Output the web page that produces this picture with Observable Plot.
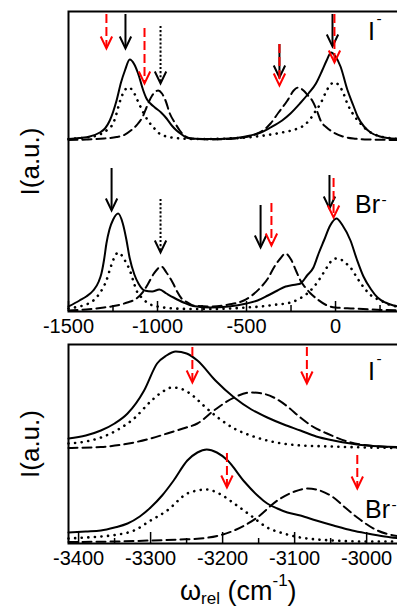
<!DOCTYPE html>
<html>
<head>
<meta charset="utf-8">
<script src="https://cdn.jsdelivr.net/npm/d3@7"></script>
<script src="https://cdn.jsdelivr.net/npm/@observablehq/plot@0.6"></script>
<style>
  body { margin: 0; background: #fff; }
  #chart { position: relative; width: 397px; height: 609px; overflow: hidden; background: #fff; }
  #chart svg { display: block; max-width: none !important; }
</style>
</head>
<body>
<div id="chart"></div>
<script>
// ---------------- DATA ----------------
// Upper panel (ω from -1500 to ~365 cm^-1); heights in a.u. above each trace's own baseline
const topMajorTicks = [-1500, -1000, -500, 0];
const topMinorTicks = [-1250, -750, -250, 250];
const topIOffset = 171;   // I- traces are stacked above the Br- traces
const topBrOffset = 0;

const topI_solid = [[-1500,1.5],[-1440,2.5],[-1380,4],[-1324,8],[-1295,12],[-1268,20],[-1230,40],[-1205,58],[-1183,70],[-1156,81],[-1130,76],[-1109,67],[-1080,50],[-1062,42],[-1040,37],[-1015,33],[-980,28],[-949,22],[-920,15],[-893,10],[-860,5.5],[-837,3],[-790,1.8],[-700,1.5],[-600,2],[-520,3.5],[-478,5],[-420,8],[-365,13],[-300,20],[-253,27],[-200,37],[-152,47],[-110,57],[-75,70],[-50,80],[-25,88],[0,84],[28,74],[66,51],[100,35],[124,24],[160,14],[197,8],[250,4],[292,2.5],[365,1.5]];
const topI_dotted = [[-1500,1.5],[-1400,3],[-1324,6],[-1280,11],[-1247,18],[-1230,27],[-1213,38],[-1185,50],[-1163,53],[-1140,50],[-1107,38],[-1080,28],[-1050,19],[-1022,13],[-990,7],[-950,4],[-900,2.5],[-800,1.5],[-700,1.5],[-600,2],[-500,3],[-400,5],[-300,8],[-213,12],[-170,16],[-140,22],[-110,30],[-84,37],[-55,48],[-28,56],[-5,58],[20,55],[45,47],[66,37],[100,26],[140,17],[180,10],[220,6],[280,3],[365,1.5]];
const topI_dashed = [[-1500,0.5],[-1400,1],[-1300,2],[-1230,3.5],[-1193,5],[-1150,10],[-1109,17],[-1080,25],[-1062,33],[-1030,45],[-996,50],[-975,47],[-955,40],[-931,27],[-900,17],[-875,10],[-850,5],[-819,2],[-780,1.5],[-700,1],[-600,1.5],[-520,3],[-438,7],[-400,11],[-365,17],[-320,28],[-270,40],[-235,50],[-208,53],[-180,50],[-155,45],[-131,40],[-105,30],[-84,20],[-50,13],[-11,8],[40,4],[100,2],[200,1],[365,0.5]];

const topBr_solid = [[-1500,5],[-1438,11],[-1400,15],[-1361,21],[-1330,30],[-1315,38],[-1300,52],[-1287,68],[-1270,82],[-1249,92],[-1221,98],[-1195,88],[-1175,72],[-1157,54],[-1130,37],[-1107,28],[-1073,21],[-1030,20],[-989,22],[-950,18],[-910,14],[-854,9],[-800,5.5],[-700,4],[-600,5],[-500,8],[-438,11],[-380,16],[-326,21],[-280,25],[-253,26],[-220,27],[-197,28],[-160,36],[-124,44],[-95,58],[-65,71],[-30,86],[5,93],[40,86],[84,71],[120,52],[157,35],[200,22],[236,14],[280,9],[326,6],[365,4.5]];
const topBr_dotted = [[-1500,3],[-1440,5],[-1400,7],[-1360,11],[-1330,17],[-1287,31],[-1260,46],[-1240,55],[-1221,59],[-1200,56],[-1180,50],[-1155,41],[-1135,30],[-1118,21],[-1090,14],[-1073,11],[-1040,7],[-1000,5],[-900,3],[-800,2.5],[-700,2.5],[-600,3],[-500,4],[-420,5],[-350,6.5],[-253,9],[-200,13],[-159,18],[-120,25],[-84,34],[-45,45],[-15,52],[6,53],[30,52],[60,48],[84,44],[120,34],[159,24],[200,16],[253,11],[300,7],[365,4.5]];
const topBr_dashed = [[-1500,1],[-1400,2],[-1300,4],[-1230,6],[-1170,9],[-1118,13],[-1080,20],[-1052,28],[-1020,38],[-978,45],[-950,39],[-912,28],[-890,20],[-865,13],[-830,9],[-800,6],[-700,5],[-600,7],[-515,11],[-470,16],[-421,24],[-380,33],[-346,44],[-310,53],[-281,58],[-250,52],[-220,40],[-197,31],[-170,24],[-140,18],[-100,12],[-47,6],[0,4],[100,3],[200,2],[365,1]];

// arrows: [x, top, tip]
const topBlackArrows = [[-1180,297,263],[-315,267,234],[-17,297,265],[-1258,143,101],[-421,106,64],[-34,136,103]];
const topDottedArrows = [[-983,284,228],[-983,111,59]];
const topRedArrows = [[-1287,297,263],[-1073,283,228],[-315,267,226],[-6,297,249],[-360,108,66],[-11,133,94]];

// Lower panel (ω from ~-3414 to ~-2953 cm^-1)
const botMajorTicks = [-3400, -3300, -3200, -3100, -3000];
const botMinorTicks = [-3350, -3250, -3150, -3050];
const botIOffset = 95;
const botBrOffset = 0;

const botI_solid = [[-3414,10],[-3390,13],[-3369,18],[-3350,25],[-3332,35],[-3309,58],[-3291,85],[-3278,93],[-3265,97],[-3250,95],[-3235,88],[-3210,68],[-3184,51],[-3160,39],[-3138,31],[-3115,24],[-3092,18],[-3070,12],[-3046,8],[-3000,3],[-2953,1.5]];
const botI_dotted = [[-3414,5],[-3390,7],[-3369,11],[-3345,19],[-3323,30],[-3300,47],[-3285,56],[-3270,61],[-3255,59],[-3240,52],[-3225,42],[-3203,29],[-3184,20],[-3161,13],[-3138,8],[-3100,3.5],[-3050,2],[-3000,1],[-2953,0.5]];
const botI_dashed = [[-3414,0.5],[-3369,1.5],[-3323,6],[-3300,10],[-3277,15],[-3255,20],[-3235,25],[-3212,38],[-3184,51],[-3161,56],[-3145,55],[-3129,51],[-3110,42],[-3092,31],[-3075,22],[-3055,15],[-3022,6],[-2990,2.5],[-2953,1]];

const botBr_solid = [[-3414,11],[-3390,12],[-3369,13],[-3350,16],[-3332,20],[-3315,27],[-3300,36],[-3284,48],[-3268,63],[-3249,83],[-3235,91],[-3222,94],[-3208,91],[-3193,83],[-3170,62],[-3150,47],[-3138,40],[-3124,35],[-3110,31],[-3092,28],[-3070,23],[-3046,18],[-3020,13],[-2999,10],[-2975,7],[-2953,5]];
const botBr_dotted = [[-3414,5],[-3390,6],[-3369,7],[-3345,9],[-3323,13],[-3300,23],[-3277,33],[-3249,50],[-3235,53],[-3222,54],[-3205,50],[-3184,40],[-3161,28],[-3138,16],[-3115,10],[-3092,6],[-3046,3],[-3000,2],[-2953,2]];
const botBr_dashed = [[-3414,1.5],[-3350,2],[-3300,3],[-3260,4],[-3231,5],[-3205,8],[-3184,13],[-3152,26],[-3124,43],[-3100,52],[-3082,55],[-3065,53],[-3046,46],[-3030,36],[-3013,26],[-2985,13],[-2953,7]];

const botRedArrows = [[-3242,196,161],[-3083,196,160],[-3194,90,56],[-3013,88,55]];

const yLabel = "I(a.u.)";
const ionI = ["I", "-"];
const ionBr = ["Br", "-"];

// ---------------- DRAWING ----------------
const FONT = '"Liberation Sans", Arial, Helvetica, sans-serif';
const RED = "#ff0000";

const rows = (pts, offset, id) => pts.map(([x, h]) => ({x, y: h + offset, id}));
const arrows = (arr) => arr.map(([x, y1, y2]) => ({x, y1, y2}));

// open V arrowhead with its tip at the anchor point
const vHead = {
  draw(ctx, size) {
    const r = Math.sqrt(size / Math.PI);
    ctx.moveTo(-0.95 * r, -2 * r);
    ctx.lineTo(0, 0);
    ctx.lineTo(0.95 * r, -2 * r);
  }
};

function arrowMarks(arr, color, dash, cap) {
  const d = arrows(arr);
  return [
    Plot.ruleX(d, {x: "x", y1: "y1", y2: "y2", stroke: color, strokeWidth: 2, strokeDasharray: dash, strokeLinecap: cap}),
    Plot.dot(d, {x: "x", y: "y2", symbol: vHead, r: 6, stroke: color, fill: "none", strokeWidth: 2, strokeLinejoin: "miter"})
  ];
}

function curveMarks(solid, dotted, dashed) {
  return [
    Plot.line(dashed, {x: "x", y: "y", z: "id", stroke: "black", strokeWidth: 2, strokeDasharray: "9,5", curve: "monotone-x"}),
    Plot.line(dotted, {x: "x", y: "y", z: "id", stroke: "black", strokeWidth: 2.6, strokeDasharray: "0.1,6.5", strokeLinecap: "round", curve: "monotone-x"}),
    Plot.line(solid, {x: "x", y: "y", z: "id", stroke: "black", strokeWidth: 2, curve: "monotone-x"})
  ];
}

function tickMarks(major, minor, frameH, majorLen, minorLen) {
  return [
    Plot.ruleX(major, {x: d => d, insetTop: frameH - majorLen, stroke: "black", strokeWidth: 1.5}),
    Plot.ruleX(minor, {x: d => d, insetTop: frameH - minorLen, stroke: "black", strokeWidth: 1.5})
  ];
}

function addIon(svg, x, y, parts, size, supDy) {
  const t = d3.select(svg).append("text")
    .attr("x", x).attr("y", y).attr("text-anchor", "start")
    .attr("font-family", FONT).attr("font-size", size).attr("fill", "black");
  t.append("tspan").text(parts[0]);
  t.append("tspan").attr("font-size", size * 0.62).attr("dx", 1.5).attr("dy", supDy).text(parts[1]);
}

// ---- upper panel ----
const topSolid = [...rows(topI_solid, topIOffset, "I"), ...rows(topBr_solid, topBrOffset, "Br")];
const topDotted = [...rows(topI_dotted, topIOffset, "I"), ...rows(topBr_dotted, topBrOffset, "Br")];
const topDashed = [...rows(topI_dashed, topIOffset, "I"), ...rows(topBr_dashed, topBrOffset, "Br")];

const topPlot = Plot.plot({
  width: 400, height: 340,
  marginLeft: 68, marginRight: 0, marginTop: 11, marginBottom: 29,
  style: {fontFamily: FONT, background: "white", color: "black"},
  x: {domain: [-1500, 365]},
  y: {domain: [0, 300], axis: null},
  marks: [
    ...curveMarks(topSolid, topDotted, topDashed),
    ...tickMarks(topMajorTicks, topMinorTicks, 300, 10, 6),
    Plot.axisX({ticks: topMajorTicks, tickSize: 0, tickPadding: 7, fontSize: 20, label: null, tickFormat: d => String(d)}),
    ...arrowMarks(topBlackArrows, "black", null, null),
    ...arrowMarks(topDottedArrows, "black", "0.1,4", "square"),
    ...arrowMarks(topRedArrows, RED, "9,4", null),
    Plot.frame({stroke: "black", strokeWidth: 2}),
    Plot.text([yLabel], {frameAnchor: "left", dx: -38, rotate: -90, fontSize: 26, textAnchor: "middle", lineAnchor: "middle", fontFamily: FONT})
  ]
});

// ---- lower panel ----
const botSolid = [...rows(botI_solid, botIOffset, "I"), ...rows(botBr_solid, botBrOffset, "Br")];
const botDotted = [...rows(botI_dotted, botIOffset, "I"), ...rows(botBr_dotted, botBrOffset, "Br")];
const botDashed = [...rows(botI_dashed, botIOffset, "I"), ...rows(botBr_dashed, botBrOffset, "Br")];

const botPlot = Plot.plot({
  width: 400, height: 269,
  marginLeft: 68, marginRight: 0, marginTop: 4, marginBottom: 66,
  style: {fontFamily: FONT, background: "white", color: "black"},
  x: {domain: [-3414, -2953]},
  y: {domain: [0, 199], axis: null},
  marks: [
    ...curveMarks(botSolid, botDotted, botDashed),
    ...tickMarks(botMajorTicks, botMinorTicks, 199, 11, 5),
    Plot.axisX({ticks: botMajorTicks, tickSize: 0, tickPadding: 7, fontSize: 20, label: null, tickFormat: d => String(d)}),
    ...arrowMarks(botRedArrows, RED, "9,4", null),
    Plot.frame({stroke: "black", strokeWidth: 2}),
    Plot.text([yLabel], {frameAnchor: "left", dx: -38, rotate: -90, fontSize: 26, textAnchor: "middle", lineAnchor: "middle", fontFamily: FONT})
  ]
});

const chart = document.getElementById("chart");
chart.appendChild(topPlot);
chart.appendChild(botPlot);

// ion labels
addIon(topPlot, 368, 40, ionI, 25, -16);
addIon(topPlot, 355, 213, ionBr, 25, -8);
addIon(botPlot, 368, 40, ionI, 25, -16);
addIon(botPlot, 365, 178, ionBr, 25, -8);

// x-axis title: ω_rel (cm^-1)
const xt = d3.select(botPlot).append("text")
  .attr("x", 180).attr("y", 260).attr("text-anchor", "start")
  .attr("font-family", FONT).attr("font-size", 27).attr("fill", "black");
xt.append("tspan").text("ω");
xt.append("tspan").attr("font-size", 17).attr("dy", 4).text("rel");
xt.append("tspan").attr("dy", -4).text(" (cm");
xt.append("tspan").attr("font-size", 17).attr("dy", -14).text("-1");
xt.append("tspan").attr("dy", 14).text(")");
</script>
</body>
</html>
